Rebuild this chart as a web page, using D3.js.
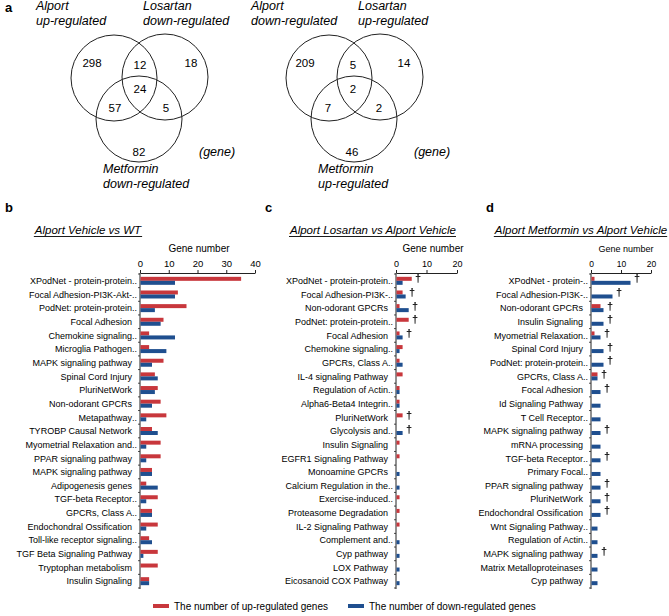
<!DOCTYPE html>
<html><head><meta charset="utf-8">
<script src="https://cdn.jsdelivr.net/npm/d3@7"></script>
<style>
html,body{margin:0;padding:0;background:#fff;}
svg{display:block;font-family:"Liberation Sans",Arial,sans-serif;}
svg text{fill:#000;}
</style></head>
<body>
<svg id="chart" width="669" height="616"></svg>
<script>
// ---------- DATA ----------
const vennLeftLabels = [["Alport","up-regulated"],["Losartan","down-regulated"],["Metformin","down-regulated"]];
const vennLeftCounts = [298, 18, 82, 12, 57, 5, 24]; // A only, B only, C only, AB, AC, BC, ABC
const vennRightLabels = [["Alport","down-regulated"],["Losartan","up-regulated"],["Metformin","up-regulated"]];
const vennRightCounts = [209, 14, 46, 5, 7, 2, 2];
const vennUnit = "(gene)";

const bTitle = "Alport Vehicle vs WT";
const bLabels = ["XPodNet - protein-protein..","Focal Adhesion-PI3K-Akt-..","PodNet: protein-protein..","Focal Adhesion","Chemokine signaling..","Microglia Pathogen..","MAPK signaling pathway","Spinal Cord Injury","PluriNetWork","Non-odorant GPCRs","Metapathway..","TYROBP Causal Network","Myometrial Relaxation and..","PPAR signaling pathway","MAPK signaling pathway","Adipogenesis genes","TGF-beta Receptor..","GPCRs, Class A..","Endochondral Ossification","Toll-like receptor signaling..","TGF Beta Signaling Pathway","Tryptophan metabolism","Insulin Signaling"];
const bUp   = [35,13,16,8,3,3,8,5,6,7,9,4,7,7,4,2,6,4,6,3,6,6,3];
const bDown = [12,12,5,7,12,9,4,6,5,4,2,6,2,2,4,6,2,4,2,4,1,0,3];
const bMark = bLabels.map(() => false);
const bTicks = [0,10,20,30,40];

const cTitle = "Alport Losartan vs Alport Vehicle";
const cLabels = ["XPodNet - protein-protein..","Focal Adhesion-PI3K-..","Non-odorant GPCRs","PodNet: protein-protein..","Focal Adhesion","Chemokine signaling..","GPCRs, Class A..","IL-4 signaling Pathway","Regulation of Actin..","Alpha6-Beta4 Integrin..","PluriNetWork","Glycolysis and..","Insulin Signaling","EGFR1 Signaling Pathway","Monoamine GPCRs","Calcium Regulation in the..","Exercise-induced..","Proteasome Degradation","IL-2 Signaling Pathway","Complement and..","Cyp pathway","LOX Pathway","Eicosanoid COX Pathway"];
const cUp   = [5,2,1,4,1,2,1,2,1,1,2,0,1,1,0,0,1,1,1,0,0,0,0];
const cDown = [2,3,4,0,2,1,2,0,1,1,0,2,0,0,1,1,0,0,0,1,1,1,1];
const cMark = [true,true,true,true,true,false,false,false,false,false,true,true,false,false,false,false,false,false,false,false,false,false,false];
const cTicks = [0,10,20];

const dTitle = "Alport Metformin vs Alport Vehicle";
const dLabels = ["XPodNet - protein-..","Focal Adhesion-PI3K-..","Non-odorant GPCRs","Insulin Signaling","Myometrial Relaxation..","Spinal Cord Injury","PodNet: protein-protein..","GPCRs, Class A..","Focal Adhesion","Id Signaling Pathway","T Cell Receptor..","MAPK signaling pathway","mRNA processing","TGF-beta Receptor..","Primary Focal..","PPAR signaling pathway","PluriNetWork","Endochondral Ossification","Wnt Signaling Pathway..","Regulation of Actin..","MAPK signaling pathway","Matrix Metalloproteinases","Cyp pathway"];
const dUp   = [1,0,3,0,1,0,0,2,0,0,0,0,0,0,0,0,0,0,0,0,0,0,0];
const dDown = [13,7,4,4,3,4,4,2,3,3,3,3,3,3,3,3,3,3,2,2,2,2,2];
const dMark = [true,true,true,true,true,true,true,true,true,false,false,true,false,true,false,true,true,true,false,false,true,false,false];
const dTicks = [0,10,20];

const axisTitle = "Gene number";
const legendLabels = ["The number of up-regulated genes","The number of down-regulated genes"];
const colors = {up:"#c8373c", down:"#1f4f8f"};

// ---------- DRAW ----------
const svg = d3.select("#chart");
const FONT = '"Liberation Sans",Arial,sans-serif';

// panel letters
[["a",5,12],["b",5,212],["c",265,212],["d",486,212]].forEach(([t,x,y])=>{
  svg.append("text").attr("x",x).attr("y",y).attr("font-size",13).attr("font-weight","bold")
    .attr("fill","#000").text(t);
});

// Venn diagrams
function venn(ox, labels, counts, numShift){
  const g = svg.append("g");
  const circles = [[114,78],[165,77],[139,119]];
  circles.forEach(([cx,cy])=>{
    g.append("circle").attr("cx",cx+ox).attr("cy",cy).attr("r",43)
      .attr("fill","none").attr("stroke","#222").attr("stroke-width",1);
  });
  // region label anchor points: A, B, C, AB, AC, BC, ABC
  const pts = [[92,67],[191,67],[139,156],[140,69],[115,112],[166,112],[140,93]];
  counts.forEach((v,i)=>{
    g.append("text").attr("x",pts[i][0]+numShift).attr("y",pts[i][1])
      .attr("text-anchor","middle").attr("font-size",11.5).attr("fill","#000").text(v);
  });
  const lp = [[36,10],[143,10],[103,173]];
  labels.forEach((ls,i)=>{
    ls.forEach((s,j)=>{
      g.append("text").attr("x",lp[i][0]+ox).attr("y",lp[i][1]+j*15)
        .attr("font-size",12.5).attr("font-style","italic").attr("fill","#000").text(s);
    });
  });
  g.append("text").attr("x",199+ox).attr("y",156).attr("font-size",12.5)
    .attr("font-style","italic").attr("fill","#000").text(vennUnit);
}
venn(0, vennLeftLabels, vennLeftCounts, 0);
venn(215, vennRightLabels, vennRightCounts, 213);

// Bar panels
function barPanel(cfg){
  const {labels, up, down, mark, ticks, x0, x1, max, title, titleX, gnX, gnSize, tickSize} = cfg;
  const g = svg.append("g");
  const x = d3.scaleLinear().domain([0,max]).range([x0,x1]);
  const y = d3.scaleBand().domain(d3.range(labels.length)).range([274,588]);
  const bw = y.bandwidth();
  const cy = i => y(i)+bw/2;

  // title with underline
  const t = g.append("text").attr("x",titleX).attr("y",234).attr("text-anchor","middle")
    .attr("font-size",11.5).attr("font-style","italic").attr("fill","#000").text(title);
  const bb = t.node().getBBox();
  g.append("line").attr("x1",bb.x).attr("x2",bb.x+bb.width).attr("y1",236.5).attr("y2",236.5)
    .attr("stroke","#000").attr("stroke-width",0.9);

  g.append("text").attr("x",gnX).attr("y",252).attr("text-anchor","middle")
    .attr("font-size",gnSize).attr("fill","#000").text(axisTitle);

  // top axis
  const ax = g.append("g").attr("transform","translate(0,273)")
    .call(d3.axisTop(x).tickValues(ticks).tickSize(3).tickSizeOuter(0).tickPadding(3));
  ax.select(".domain").attr("stroke","#222");
  ax.selectAll(".tick line").attr("stroke","#222");
  ax.selectAll(".tick text").attr("font-size",tickSize).attr("font-family",FONT).attr("fill","#000");

  // vertical axis
  g.append("line").attr("x1",x0).attr("x2",x0).attr("y1",273).attr("y2",589)
    .attr("stroke","#222").attr("stroke-width",1);
  d3.range(labels.length+1).forEach(i=>{
    const yy = i<labels.length ? y(i) : 588;
    g.append("line").attr("x1",x0-2).attr("x2",x0).attr("y1",yy).attr("y2",yy)
      .attr("stroke","#222").attr("stroke-width",0.8);
  });

  // bars
  g.selectAll("rect.up").data(up).join("rect").attr("class","up")
    .attr("x",x0+0.5).attr("y",(d,i)=>cy(i)-4).attr("height",4)
    .attr("width",d=>Math.max(0,x(d)-x0)).attr("fill",colors.up);
  g.selectAll("rect.down").data(down).join("rect").attr("class","down")
    .attr("x",x0+0.5).attr("y",(d,i)=>cy(i)).attr("height",4)
    .attr("width",d=>Math.max(0,x(d)-x0)).attr("fill",colors.down);

  // labels
  labels.forEach((s,i)=>{
    const trunc = s.endsWith("..");
    const base = trunc ? s.slice(0,-2) : s;
    g.append("text").attr("x",x0-8).attr("y",cy(i)+3.2).attr("text-anchor","end")
      .attr("font-size",9).attr("fill","#000").text(base);
    if(trunc){
      g.append("text").attr("x",x0-8).attr("y",cy(i)+3.2).attr("font-size",9)
        .attr("fill","#000").text("..");
    }
  });

  // significance marks (grayscale antialiasing via group opacity)
  const mg = g.append("g").attr("opacity",0.99).style("will-change","transform");
  mark.forEach((m,i)=>{
    if(!m) return;
    mg.append("text").attr("x",Math.round(x(Math.max(up[i],down[i]))+4)).attr("y",Math.round(cy(i)+1.5))
      .attr("font-size",11).attr("font-weight","bold").attr("fill","#000").text("\u2020");
  });
}

barPanel({labels:bLabels, up:bUp, down:bDown, mark:bMark, ticks:bTicks, x0:140, x1:255, max:40,
  title:bTitle, titleX:88, gnX:199, gnSize:10, tickSize:9.5});
barPanel({labels:cLabels, up:cUp, down:cDown, mark:cMark, ticks:cTicks, x0:396, x1:457, max:20,
  title:cTitle, titleX:373, gnX:433, gnSize:10, tickSize:9});
barPanel({labels:dLabels, up:dUp, down:dDown, mark:dMark, ticks:dTicks, x0:591, x1:651, max:20,
  title:dTitle, titleX:581, gnX:626, gnSize:9, tickSize:8.5});

// legend
const lg = svg.append("g");
[[153,colors.up,legendLabels[0]],[348,colors.down,legendLabels[1]]].forEach(([lx,c,s])=>{
  lg.append("line").attr("x1",lx).attr("x2",lx+16).attr("y1",606).attr("y2",606)
    .attr("stroke",c).attr("stroke-width",4);
  lg.append("text").attr("x",lx+21).attr("y",609.5).attr("font-size",10).attr("fill","#000").text(s);
});
</script>
</body></html>
